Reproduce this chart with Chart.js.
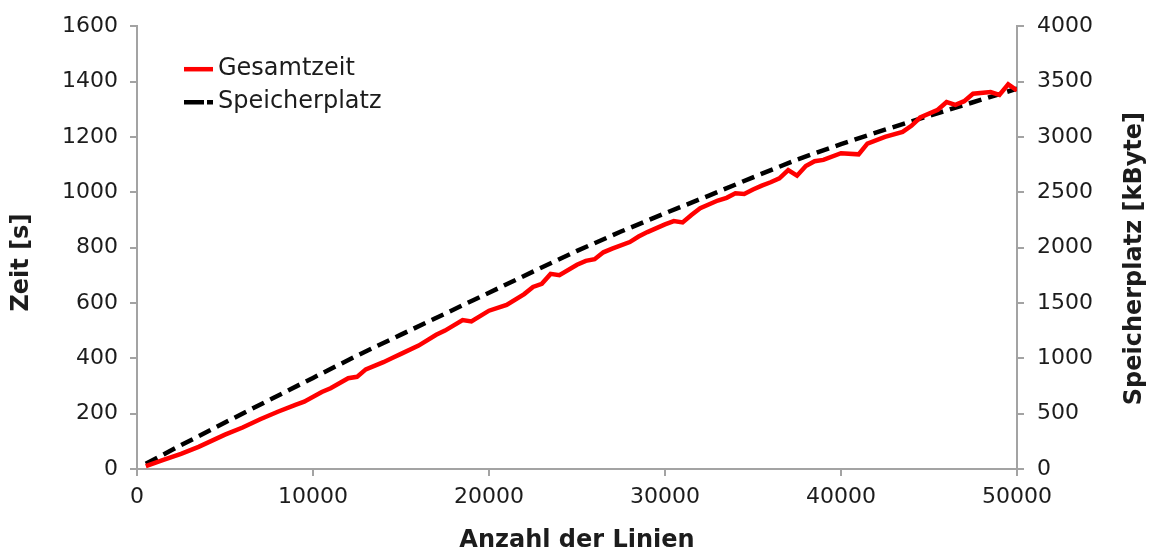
<!DOCTYPE html>
<html>
<head>
<meta charset="utf-8">
<title>Gesamtzeit und Speicherplatz</title>
<script src="https://cdn.jsdelivr.net/npm/chart.js@4.4.1/dist/chart.umd.min.js"></script>
<style>
  html, body { margin: 0; padding: 0; background: #ffffff; }
  canvas { display: block; }
</style>
</head>
<body>
<canvas id="chart" width="1151" height="550"></canvas>
<script>
// Gesamtzeit (left axis, seconds) over the number of lines
const timeLines = [
  500, 1500, 2500, 3500, 5000, 6000, 7000, 8000, 9000, 9500,
  10500, 11000, 12000, 12500, 13000, 14000, 14500, 15000, 16000, 17000,
  17500, 18500, 19000, 20000, 21000, 22000, 22500, 23000, 23500, 24000,
  25000, 25500, 26000, 26500, 27000, 28000, 28500, 29000, 30000, 30500,
  31000, 31500, 32000, 33000, 33500, 34000, 34500, 35000, 35500, 36000,
  36500, 37000, 37500, 38000, 38500, 39000, 40000, 41000, 41500, 42500,
  43500, 44000, 44500, 45500, 46000, 46500, 47000, 47500, 48500, 49000,
  49500, 50000
];
const timeSeconds = [
  10, 33, 55, 80, 124, 150, 180, 207, 232, 243,
  278, 292, 328, 333, 360, 386, 401, 416, 446, 485,
  500, 538, 533, 572, 593, 632, 658, 669, 705, 700,
  738, 752, 758, 783, 796, 820, 840, 856, 884, 896,
  891, 918, 942, 970, 980, 996, 994, 1010, 1024, 1036,
  1050, 1080, 1060, 1095, 1112, 1117, 1141, 1137, 1176, 1200,
  1218, 1240, 1270, 1298, 1326, 1316, 1329, 1356, 1362, 1352,
  1390, 1368
];

// Speicherplatz (right axis, kByte) over the number of lines
const memLines = [
  500, 2500, 5000, 7500, 10000, 12500, 15000, 17500, 20000, 22500,
  25000, 27500, 30000, 32500, 35000, 37500, 40000, 42500, 45000, 47500,
  50000
];
const memKB = [
  48, 215, 420, 622, 823, 1024, 1214, 1403, 1592, 1783,
  1970, 2145, 2310, 2470, 2635, 2795, 2935, 3065, 3190, 3313,
  3435
];

// Axis tick values
const xTickValues = [0, 10000, 20000, 30000, 40000, 50000];
const timeTickValues = [0, 200, 400, 600, 800, 1000, 1200, 1400, 1600];
const memTickValues = [0, 500, 1000, 1500, 2000, 2500, 3000, 3500, 4000];

const FONT = "'DejaVu Sans', Verdana, sans-serif";
const TEXT = '#1c1c1c';
const AXIS = '#a3a3a3';

const toPoints = (xs, ys) => xs.map((x, i) => ({ x, y: ys[i] }));
const fixedTicks = values => scale => { scale.ticks = values.map(value => ({ value })); };

// Legend inside the plot area and the two vertical axis titles (both read bottom-to-top)
const overlay = {
  id: 'overlay',
  afterDatasetsDraw(chart) {
    const { ctx, chartArea } = chart;
    const x0 = chartArea.left + 47;
    const yStart = chartArea.top + 43;
    chart.data.datasets.forEach((ds, i) => {
      const y = yStart + i * 33;
      ctx.save();
      ctx.strokeStyle = ds.borderColor;
      ctx.lineWidth = ds.borderWidth;
      ctx.lineCap = 'butt';
      ctx.setLineDash(ds.legendDash || []);
      ctx.beginPath();
      ctx.moveTo(x0, y);
      ctx.lineTo(x0 + 29, y);
      ctx.stroke();
      ctx.setLineDash([]);
      ctx.fillStyle = TEXT;
      ctx.font = `24px ${FONT}`;
      ctx.textBaseline = 'middle';
      ctx.textAlign = 'left';
      ctx.fillText(ds.label, x0 + 34, y);
      ctx.restore();
    });

    const midY = (chartArea.top + chartArea.bottom) / 2;
    const drawVertical = (text, x, y) => {
      ctx.save();
      ctx.translate(x, y);
      ctx.rotate(-Math.PI / 2);
      ctx.font = `bold 24px ${FONT}`;
      ctx.fillStyle = TEXT;
      ctx.textAlign = 'center';
      ctx.textBaseline = 'middle';
      ctx.fillText(text, 0, 0);
      ctx.restore();
    };
    drawVertical(chart.options.scales.y.axisTitle, 22, midY + 15);
    drawVertical(chart.options.scales.y2.axisTitle, chart.width - 16, midY + 11);
  }
};

new Chart(document.getElementById('chart'), {
  type: 'line',
  data: {
    datasets: [
      {
        label: 'Gesamtzeit',
        data: toPoints(timeLines, timeSeconds),
        yAxisID: 'y',
        borderColor: '#ff0000',
        borderWidth: 4.5,
        pointRadius: 0,
        tension: 0,
        fill: false
      },
      {
        label: 'Speicherplatz',
        data: toPoints(memLines, memKB),
        yAxisID: 'y2',
        borderColor: '#000000',
        borderWidth: 4.5,
        borderDash: [13, 7],
        legendDash: [20, 3],
        pointRadius: 0,
        tension: 0,
        fill: false
      }
    ]
  },
  options: {
    responsive: false,
    animation: false,
    layout: { padding: { top: 22, right: 0, bottom: 0, left: 0 } },
    plugins: { legend: { display: false }, tooltip: { enabled: false } },
    scales: {
      x: {
        type: 'linear',
        min: 0,
        max: 50000,
        afterBuildTicks: fixedTicks(xTickValues),
        afterFit: s => { s.height = 81; },
        border: { display: true, color: AXIS, width: 2 },
        grid: { drawOnChartArea: false, drawTicks: true, tickLength: 7, color: AXIS, lineWidth: 2 },
        ticks: {
          autoSkip: false, maxRotation: 0, padding: 8, color: TEXT,
          font: { family: FONT, size: 22 },
          callback: v => String(v)
        },
        title: {
          display: true, text: 'Anzahl der Linien', color: TEXT,
          font: { family: FONT, size: 24, weight: 'bold', lineHeight: 0.8 },
          padding: { top: 0, bottom: 0 }
        }
      },
      y: {
        type: 'linear',
        position: 'left',
        min: 0,
        max: 1600,
        axisTitle: 'Zeit [s]',
        afterBuildTicks: fixedTicks(timeTickValues),
        afterFit: s => { s.width = 137; },
        border: { display: true, color: AXIS, width: 2 },
        grid: { drawOnChartArea: false, drawTicks: true, tickLength: 7, color: AXIS, lineWidth: 2 },
        ticks: {
          autoSkip: false, padding: 12, color: TEXT,
          font: { family: FONT, size: 22 },
          callback: v => String(v)
        }
      },
      y2: {
        type: 'linear',
        position: 'right',
        min: 0,
        max: 4000,
        axisTitle: 'Speicherplatz [kByte]',
        afterBuildTicks: fixedTicks(memTickValues),
        afterFit: s => { s.width = 134; },
        border: { display: true, color: AXIS, width: 2 },
        grid: { drawOnChartArea: false, drawTicks: true, tickLength: 7, color: AXIS, lineWidth: 2 },
        ticks: {
          autoSkip: false, padding: 13, color: TEXT,
          font: { family: FONT, size: 22 },
          callback: v => String(v)
        }
      }
    }
  },
  plugins: [overlay]
});
</script>
</body>
</html>
